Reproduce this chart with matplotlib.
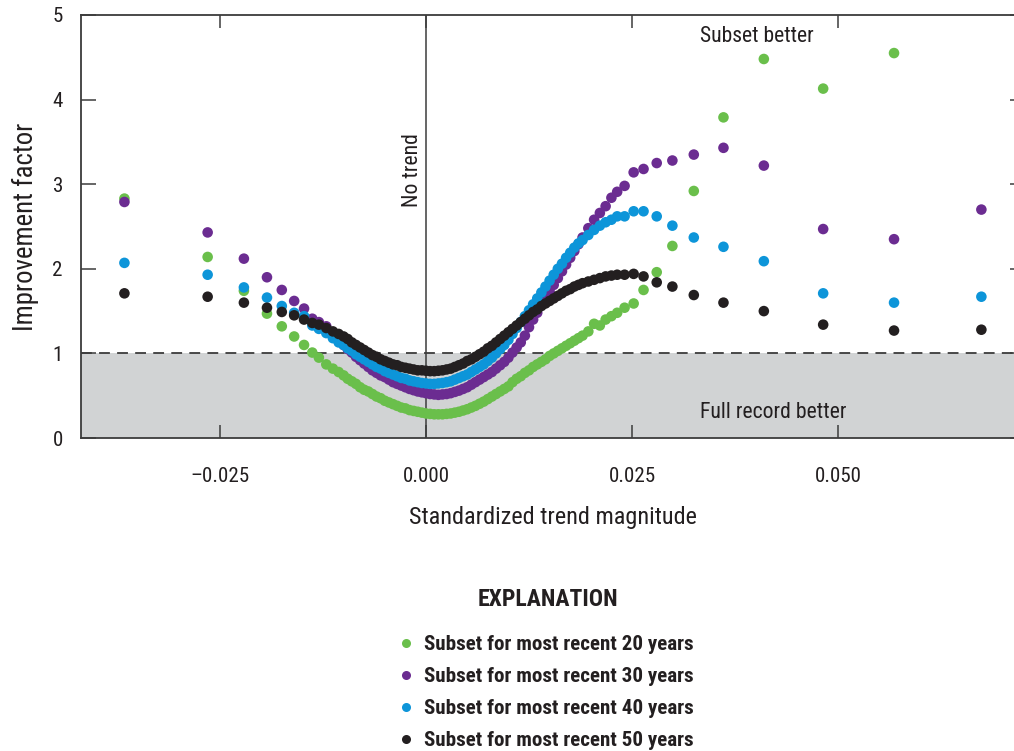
import numpy as np
import matplotlib
matplotlib.use('Agg')
import matplotlib.pyplot as plt
from matplotlib import font_manager
from matplotlib.lines import Line2D

# pick a condensed face if one is there, otherwise a plain sans
family = 'Liberation Sans'
for name in ['Liberation Sans Narrow', 'DejaVu Sans Condensed', 'Roboto Condensed', 'Liberation Sans']:
    try:
        font_manager.findfont(font_manager.FontProperties(family=name), fallback_to_default=False)
        family = name
        break
    except ValueError:
        pass
plt.rcParams['font.family'] = [family, 'DejaVu Sans']

# standardized trend magnitude (shared by all subsets)
trend = [-0.0366, -0.0265, -0.0221, -0.0193, -0.0175, -0.0160, -0.0148, -0.0138, -0.0130, -0.0121,
         -0.0113, -0.0106, -0.0100,
         -0.0095, -0.0090, -0.0085, -0.0080, -0.0075, -0.0070, -0.0065, -0.0060, -0.0055, -0.0050,
         -0.0045, -0.0040, -0.0035, -0.0030, -0.0025, -0.0020, -0.0015, -0.0010, -0.0005, 0.0000,
         0.0005, 0.0010, 0.0015, 0.0020, 0.0025, 0.0030, 0.0035, 0.0040, 0.0045, 0.0050,
         0.0055, 0.0060, 0.0065, 0.0070, 0.0075, 0.0080, 0.0085, 0.0090, 0.0095, 0.0100,
         0.0105, 0.0110, 0.0115, 0.0120, 0.0125, 0.0130, 0.0135, 0.0140, 0.0145, 0.0150,
         0.0155, 0.0160, 0.0165, 0.0170, 0.0175, 0.0180, 0.0185, 0.0190,
         0.0197, 0.0204, 0.0211, 0.0218, 0.0225, 0.0232,
         0.0241, 0.0252, 0.0264, 0.0280, 0.0299, 0.0325, 0.0361, 0.0410, 0.0482, 0.0568, 0.0674]

yrs20 = [2.83, 2.14, 1.74, 1.47, 1.32, 1.20, 1.10, 1.01, 0.95, 0.87,
         0.82, 0.78, 0.74,
         0.70, 0.67, 0.64, 0.60, 0.57, 0.55, 0.52, 0.49, 0.47, 0.44,
         0.42, 0.40, 0.38, 0.36, 0.35, 0.33, 0.32, 0.31, 0.30, 0.29,
         0.285, 0.28, 0.28, 0.28, 0.285, 0.29, 0.30, 0.31, 0.325, 0.34,
         0.36, 0.38, 0.405, 0.43, 0.46, 0.49, 0.52, 0.55, 0.58, 0.61,
         0.66, 0.70, 0.73, 0.77, 0.80, 0.84, 0.87, 0.90, 0.93, 0.97,
         1.00, 1.03, 1.06, 1.09, 1.12, 1.15, 1.18, 1.21,
         1.26, 1.35, 1.33, 1.40, 1.44, 1.48,
         1.54, 1.59, 1.75, 1.96, 2.27, 2.92, 3.79, 4.48, 4.13, 4.55, np.nan]

yrs30 = [2.79, 2.43, 2.12, 1.90, 1.75, 1.62, 1.53, 1.41, 1.37, 1.32,
         1.23, 1.16, 1.10,
         1.05, 1.01, 0.96, 0.92, 0.88, 0.84, 0.80, 0.77, 0.74, 0.72,
         0.69, 0.66, 0.64, 0.62, 0.60, 0.58, 0.565, 0.55, 0.54, 0.53,
         0.52, 0.515, 0.51, 0.515, 0.52, 0.53, 0.545, 0.56, 0.58, 0.60,
         0.63, 0.66, 0.69, 0.72, 0.75, 0.78, 0.82, 0.86, 0.90, 0.95,
         1.01, 1.07, 1.13, 1.21, 1.31, 1.40, 1.48, 1.57, 1.65, 1.73,
         1.81, 1.89, 1.97, 2.05, 2.13, 2.21, 2.29, 2.37,
         2.48, 2.58, 2.66, 2.74, 2.84, 2.91,
         2.98, 3.14, 3.18, 3.25, 3.28, 3.35, 3.43, 3.22, 2.47, 2.35, 2.70]

yrs40 = [2.07, 1.93, 1.78, 1.66, 1.56, 1.48, 1.44, 1.33, 1.29, 1.24,
         1.18, 1.13, 1.10,
         1.06, 1.03, 0.99, 0.96, 0.93, 0.90, 0.87, 0.84, 0.82, 0.79,
         0.77, 0.75, 0.73, 0.71, 0.70, 0.68, 0.67, 0.66, 0.65, 0.645,
         0.64, 0.64, 0.645, 0.65, 0.66, 0.67, 0.69, 0.71, 0.73, 0.75,
         0.78, 0.81, 0.84, 0.87, 0.91, 0.95, 1.00, 1.05, 1.10, 1.16,
         1.23, 1.30, 1.37, 1.44, 1.51, 1.58, 1.65, 1.72, 1.79, 1.86,
         1.93, 2.00, 2.06, 2.13, 2.19, 2.25, 2.30, 2.34,
         2.40, 2.46, 2.51, 2.55, 2.58, 2.62,
         2.62, 2.68, 2.68, 2.62, 2.51, 2.37, 2.26, 2.09, 1.71, 1.60, 1.67]

yrs50 = [1.71, 1.67, 1.60, 1.54, 1.49, 1.45, 1.40, 1.36, 1.34, 1.30,
         1.26, 1.23, 1.20,
         1.17, 1.13, 1.10, 1.07, 1.04, 1.01, 0.98, 0.96, 0.93, 0.91,
         0.89, 0.87, 0.86, 0.84, 0.83, 0.82, 0.81, 0.80, 0.80, 0.795,
         0.79, 0.79, 0.795, 0.80, 0.81, 0.82, 0.84, 0.86, 0.88, 0.91,
         0.93, 0.96, 0.99, 1.02, 1.06, 1.09, 1.13, 1.17, 1.21, 1.25,
         1.29, 1.33, 1.37, 1.41, 1.45, 1.49, 1.52, 1.56, 1.59, 1.62,
         1.65, 1.68, 1.71, 1.74, 1.76, 1.79, 1.81, 1.83,
         1.85, 1.87, 1.89, 1.91, 1.92, 1.93,
         1.93, 1.94, 1.91, 1.84, 1.79, 1.69, 1.60, 1.50, 1.34, 1.27, 1.28]

series = [yrs20, yrs30, yrs40, yrs50]
labels = ['Subset for most recent 20 years', 'Subset for most recent 30 years',
          'Subset for most recent 40 years', 'Subset for most recent 50 years']
colors = ['#6abf4b', '#6b2c91', '#0d95d9', '#231f20']

xticks = [-0.025, 0.0, 0.025, 0.05]
xticklabels = ['\u20130.025', '0.000', '0.025', '0.050']

W, H = 1014, 751
fig = plt.figure(figsize=(W/100, H/100), dpi=100)
ax = fig.add_axes([81/W, 1 - 438/H, (1025 - 81)/W, (438 - 15)/H])
renderer = fig.canvas.get_renderer()


def fit(t, target_px, vertical=False):
    # scale the font so the text spans about target_px, as in the reference
    bb = t.get_window_extent(renderer)
    cur = bb.height if vertical else bb.width
    t.set_fontsize(t.get_fontsize() * target_px / cur)
    return t.get_fontsize()


ax.set_xlim((81 - 426)/8240, (1025 - 426)/8240)
ax.set_ylim(0, 5)

ax.axhspan(0, 1, color='#d1d3d4', lw=0, zorder=0)
ax.axhline(1, color='#3c3c3c', lw=1.3, dashes=(6, 4), zorder=1)
ax.axvline(0, color='#3c3c3c', lw=1.1, zorder=1)

for y, c in zip(series, colors):
    ax.scatter(trend, y, s=58, color=c, edgecolors='none', zorder=3)

for sp in ax.spines.values():
    sp.set_color('#3c3c3c')
    sp.set_linewidth(1.3)

# tick label size from the width of "0.025"
probe = fig.text(0, 0, '0.025', fontsize=15)
tick_size = fit(probe, 47)
probe.remove()

ax.set_xticks(xticks)
ax.set_xticklabels(xticklabels)
ax.set_yticks([0, 1, 2, 3, 4, 5])
ax.tick_params(axis='x', direction='in', length=9.5, width=1.1, color='#3c3c3c',
               top=True, labelsize=tick_size, pad=21, labelcolor='#231f20')
ax.tick_params(axis='y', direction='in', length=11, width=1.1, color='#3c3c3c',
               right=True, labelsize=tick_size, pad=13, labelcolor='#231f20')

xl = ax.set_xlabel('Standardized trend magnitude', fontsize=17, labelpad=14, color='#231f20')
fit(xl, 288)
yl = ax.set_ylabel('Improvement factor', fontsize=17, labelpad=10, color='#231f20')
fit(yl, 208, vertical=True)

t1 = ax.text(0.0402, 4.74, 'Subset better', fontsize=15, ha='center', va='center', color='#231f20')
fit(t1, 114)
t2 = ax.text(0.0421, 0.30, 'Full record better', fontsize=15, ha='center', va='center', color='#231f20')
fit(t2, 147)
t3 = ax.text(-0.0016, 3.17, 'No trend', fontsize=15, rotation=90, ha='center', va='center', color='#231f20')
fit(t3, 74, vertical=True)

# explanation block
title = fig.text(548/W, 1 - 600/H, 'EXPLANATION', fontsize=16, fontweight='bold',
                 ha='center', va='center', color='#231f20')
fit(title, 140)
entry_y = [643, 675, 707, 739]
for lab, c, py in zip(labels, colors, entry_y):
    fig.add_artist(Line2D([406/W], [1 - py/H], ls='none', marker='o', ms=6.5,
                          color=c, markeredgewidth=0))
    t = fig.text(424/W, 1 - py/H, lab, fontsize=15, fontweight='bold',
                 ha='left', va='center_baseline', color='#231f20')
    fit(t, 269)

fig.savefig('out.png', dpi=100)
